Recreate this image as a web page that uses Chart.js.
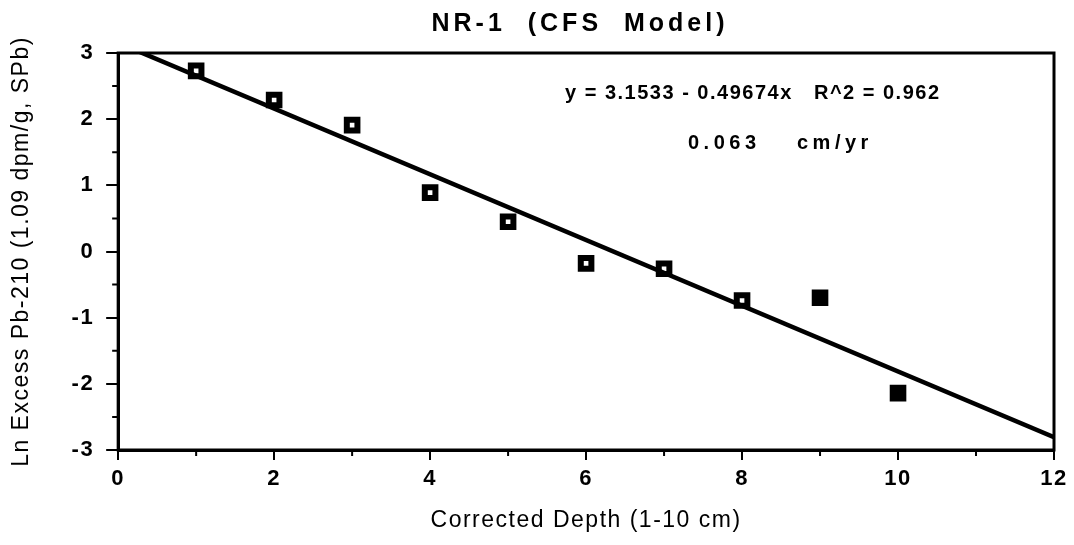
<!DOCTYPE html>
<html>
<head>
<meta charset="utf-8">
<script src="https://cdn.jsdelivr.net/npm/chart.js@4"></script>
<style>
  html, body { margin: 0; padding: 0; background: #fff; }
  #wrap { width: 1074px; height: 545px; }
</style>
</head>
<body>
<div id="wrap"><canvas id="chart"></canvas></div>
<script>
// depth (cm) and ln excess Pb-210
const depths = [1, 2, 3, 4, 5, 6, 7, 8, 9, 10];
const lnPb = [2.73, 2.29, 1.91, 0.89, 0.45, -0.18, -0.26, -0.74, -0.70, -2.14];
const filled = [false, false, false, false, false, false, false, false, true, true];

// regression from the figure
const intercept = 3.1533;
const slope = -0.49674;
const fitX = [0, 12];

const FONT = '"Liberation Sans", Arial, Helvetica, sans-serif';

// wide tracking like the old Mac plot
const spacingPlugin = {
    id: 'spacing',
    beforeLayout(chart) { chart.ctx.letterSpacing = '1.5px'; },
    beforeDraw(chart) { chart.ctx.letterSpacing = '1.5px'; }
};

// box, minor ticks, title and annotation text
const boxPlugin = {
    id: 'box',
    afterDraw(chart) {
        const { ctx, chartArea: a } = chart;
        const xs = chart.scales.x, ys = chart.scales.y;
        ctx.save();
        ctx.strokeStyle = '#000';
        ctx.lineWidth = 3;
        ctx.strokeRect(a.left, a.top, a.right - a.left, a.bottom - a.top);

        // minor ticks
        ctx.lineWidth = 2;
        ctx.beginPath();
        ys.ticks.forEach(t => {
            if (!Number.isInteger(t.value)) {
                const y = ys.getPixelForValue(t.value);
                ctx.moveTo(a.left - 6, y);
                ctx.lineTo(a.left, y);
            }
        });
        xs.ticks.forEach(t => {
            if (t.value % 2 !== 0) {
                const x = xs.getPixelForValue(t.value);
                ctx.moveTo(x, a.bottom);
                ctx.lineTo(x, a.bottom + 6);
            }
        });
        ctx.stroke();

        ctx.fillStyle = '#000';
        ctx.textBaseline = 'middle';
        ctx.textAlign = 'center';
        ctx.font = 'bold 25px ' + FONT;
        ctx.letterSpacing = '4px';
        ctx.fillText('NR-1  (CFS  Model)', 580, 24);

        ctx.textAlign = 'left';
        ctx.font = 'bold 20px ' + FONT;
        ctx.letterSpacing = '1.5px';
        ctx.fillText('y = 3.1533 - 0.49674x   R^2 = 0.962', 565, 93);
        ctx.letterSpacing = '4.5px';
        ctx.fillText('0.063', 688, 143);
        ctx.fillText('cm/yr', 797, 143);
        ctx.restore();
    }
};

new Chart(document.getElementById('chart'), {
    type: 'scatter',
    data: {
        datasets: [{
            label: 'Fit',
            type: 'line',
            data: fitX.map(x => ({ x: x, y: intercept + slope * x })),
            borderColor: '#000',
            borderWidth: 4.5,
            pointRadius: 0,
            fill: false
        }, {
            label: 'Data',
            data: depths.map((d, i) => ({ x: d, y: lnPb[i] })),
            pointStyle: 'rect',
            pointRadius: 7.5,
            pointBorderWidth: 6,
            pointBorderColor: '#000',
            pointBackgroundColor: filled.map(f => f ? '#000' : '#fff')
        }]
    },
    options: {
        responsive: true,
        maintainAspectRatio: false,
        animation: false,
        layout: { padding: { left: 6, right: 20, top: 53, bottom: 1 } },
        plugins: {
            legend: { display: false },
            tooltip: { enabled: false },
            title: { display: false }
        },
        scales: {
            x: {
                type: 'linear',
                min: 0,
                max: 12,
                border: { color: '#000', width: 3 },
                grid: {
                    drawOnChartArea: false,
                    tickLength: 10,
                    lineWidth: 2,
                    tickColor: c => (c.tick && c.tick.value % 2 === 0 ? '#000' : 'rgba(0,0,0,0)')
                },
                ticks: {
                    stepSize: 1,
                    color: '#000',
                    font: { family: FONT, size: 22, weight: 'bold' },
                    padding: 6,
                    maxRotation: 0,
                    autoSkip: false,
                    callback: v => (v % 2 === 0 ? v : '')
                },
                title: {
                    display: true,
                    text: 'Corrected Depth (1-10 cm)',
                    color: '#000',
                    font: { family: FONT, size: 23 },
                    padding: { top: 8, bottom: 10 }
                }
            },
            y: {
                min: -3,
                max: 3,
                border: { color: '#000', width: 3 },
                grid: {
                    drawOnChartArea: false,
                    tickLength: 12,
                    lineWidth: 2,
                    tickColor: c => (c.tick && Number.isInteger(c.tick.value) ? '#000' : 'rgba(0,0,0,0)')
                },
                ticks: {
                    stepSize: 0.5,
                    color: '#000',
                    font: { family: FONT, size: 22, weight: 'bold' },
                    padding: 12,
                    autoSkip: false,
                    callback: v => (Number.isInteger(v) ? v : '')
                },
                title: {
                    display: true,
                    text: 'Ln Excess Pb-210 (1.09 dpm/g, SPb)',
                    color: '#000',
                    font: { family: FONT, size: 23 },
                    padding: { top: 2, bottom: 24 }
                }
            }
        }
    },
    plugins: [spacingPlugin, boxPlugin]
});
</script>
</body>
</html>
